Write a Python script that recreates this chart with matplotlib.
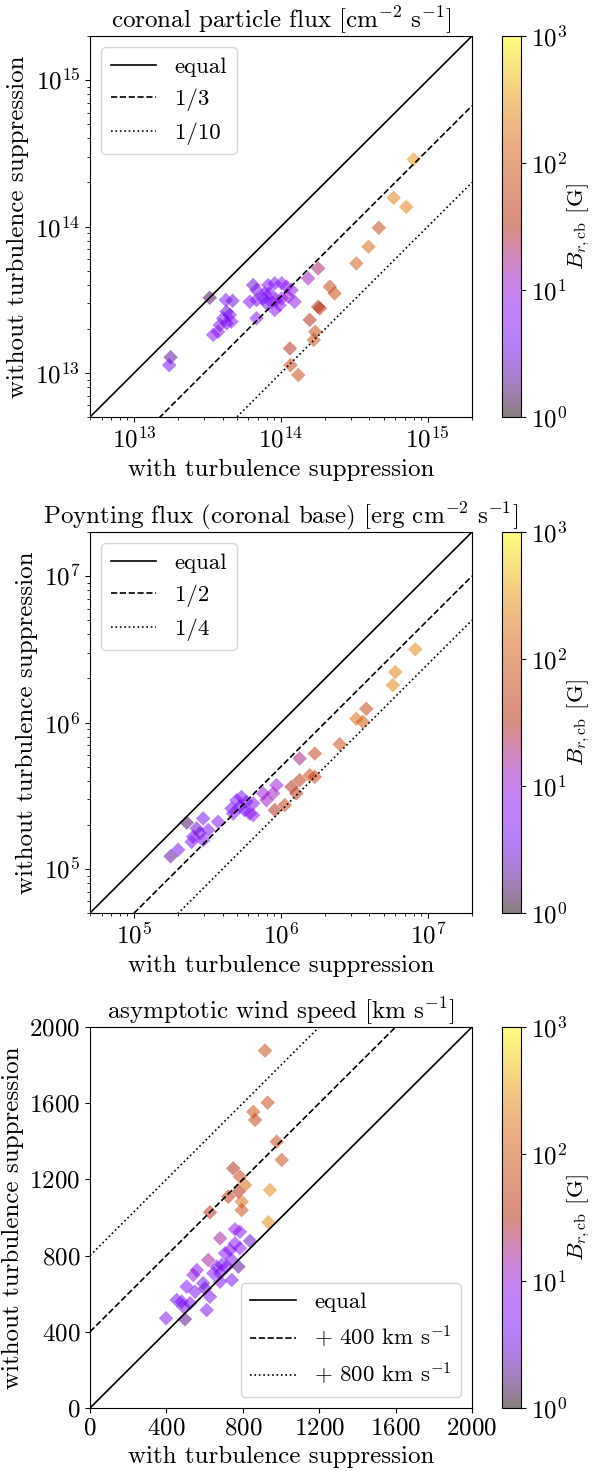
import matplotlib
matplotlib.use("Agg")
from matplotlib import pyplot as plt
from matplotlib.colors import LogNorm
import numpy as np

plt.rcParams["font.family"] = "serif"
plt.rcParams["font.serif"] = ["cmr10"]
plt.rcParams["mathtext.fontset"] = "cm"
plt.rcParams["axes.formatter.use_mathtext"] = True
plt.rcParams["axes.unicode_minus"] = False
plt.rcParams["font.size"] = 18

# coronal particle flux [cm^-2 s^-1]
flux_with = [1.77e13, 1.73e13, 3.27e13, 4.21e13, 4.68e13, 4.26e13, 4.48e13, 4.04e13, 4.6e13, 4.26e13,
             3.83e13, 3.45e13, 3.73e13, 6.46e13, 6.81e13, 8.17e13, 9.06e13, 1.01e14, 1.09e14, 6.12e13,
             6.81e13, 7.55e13, 7.96e13, 8.61e13, 9.31e13, 1.01e14, 1.12e14, 1.18e14, 1.24e14, 9.06e13,
             6.81e13, 7.76e13, 8.38e13, 9.8e13, 1.53e14, 1.79e14, 2.15e14, 2.32e14, 1.79e14, 1.84e14,
             1.57e14, 1.71e14, 1.67e14, 1.15e14, 1.16e14, 1.31e14, 8.0e14, 5.85e14, 7.13e14, 4.64e14,
             3.95e14, 3.26e14]
flux_without = [1.28e13, 1.13e13, 3.26e13, 3.15e13, 3.11e13, 2.62e13, 2.49e13, 2.36e13, 2.24e13, 2.18e13,
                2.12e13, 1.82e13, 1.91e13, 3.98e13, 3.68e13, 3.98e13, 4.09e13, 4.09e13, 3.88e13, 3.06e13,
                3.15e13, 3.23e13, 2.99e13, 3.06e13, 3.15e13, 3.23e13, 3.31e13, 3.68e13, 3.06e13, 2.69e13,
                2.36e13, 3.49e13, 3.49e13, 2.9e13, 4.42e13, 5.18e13, 3.88e13, 3.49e13, 2.83e13, 2.76e13,
                2.3e13, 1.91e13, 1.68e13, 1.47e13, 1.13e13, 9.68e12, 2.87e14, 1.57e14, 1.36e14, 9.8e13,
                7.27e13, 5.6e13]
flux_B = [2, 4, 1.5, 5, 3, 3, 4, 4, 5, 4,
          5, 6, 5, 3, 4, 6, 5, 6, 7, 5,
          4, 4, 4, 5, 6, 7, 10, 8, 9, 6,
          5, 4, 5, 7, 12, 20, 60, 70, 30, 35,
          30, 70, 70, 30, 60, 70, 300, 200, 200, 70,
          150, 100]

# Poynting flux at coronal base [erg cm^-2 s^-1]
pf_with = [1.77e5, 1.99e5, 2.28e5, 2.95e5, 2.66e5, 2.8e5, 2.52e5, 2.95e5, 2.46e5, 3.19e5,
           3.73e5, 4.98e5, 4.6e5, 5.24e5, 5.82e5, 6.46e5, 4.72e5, 6.12e5, 6.46e5, 5.38e5,
           7.55e5, 7.96e5, 8.83e5, 9.31e5, 5.66e5, 1.34e6, 1.7e6, 1.18e6, 1.34e6, 1.27e6,
           1.57e6, 1.7e6, 9.08e5, 1.06e6, 2.51e6, 3.26e6, 3.61e6, 3.81e6, 5.78e6, 6.01e6,
           8.22e6]
pf_without = [1.22e5, 1.35e5, 2.07e5, 2.21e5, 1.89e5, 1.75e5, 1.66e5, 1.57e5, 1.53e5, 1.84e5,
              2.1e5, 2.95e5, 2.59e5, 2.66e5, 2.87e5, 2.8e5, 2.39e5, 2.39e5, 2.33e5, 3.1e5,
              3.28e5, 2.95e5, 3.28e5, 3.73e5, 2.52e5, 5.68e5, 6.14e5, 3.64e5, 4.04e5, 3.28e5,
              4.36e5, 4.25e5, 2.52e5, 2.73e5, 7.11e5, 1.06e6, 1.01e6, 1.24e6, 1.8e6, 2.21e6,
              3.16e6]
pf_B = [2, 4, 1.5, 4, 3, 4, 4, 5, 5, 5,
        5, 5, 4, 4, 4, 6, 5, 7, 8, 5,
        10, 12, 12, 10, 4, 18, 60, 30, 40, 35,
        70, 60, 30, 50, 80, 150, 100, 60, 200, 200,
        250]

# asymptotic wind speed [km s^-1]
v_with = [916, 930, 855, 864, 977, 1004, 750, 785, 812, 777,
          942, 724, 794, 794, 628, 934, 681, 759, 785, 838,
          759, 733, 785, 619, 707, 742, 663, 690, 716, 646,
          681, 777, 559, 541, 593, 602, 506, 550, 628, 742,
          681, 454, 480, 524, 489, 611, 398, 497]
v_without = [1876, 1603, 1555, 1512, 1398, 1302, 1258, 1214, 1171, 1135,
             1144, 1109, 1083, 1039, 1027, 975, 891, 938, 925, 877,
             864, 829, 838, 777, 812, 777, 742, 751, 742, 707,
             707, 742, 724, 698, 655, 628, 637, 610, 584, 672,
             663, 567, 558, 550, 532, 514, 471, 466]
v_B = [70, 70, 80, 60, 70, 70, 30, 60, 150, 30,
       250, 40, 150, 80, 30, 250, 15, 8, 6, 3,
       6, 5, 7, 15, 6, 5, 4, 4, 5, 5,
       5, 2, 6, 10, 4, 3, 5, 5, 5, 4,
       5, 4, 4, 4, 4, 5, 5, 2]

fig = plt.figure(figsize=(5.96, 14.71), dpi=100)
W, H = 596.0, 1471.0
norm = LogNorm(1, 1e3)


def panel(top, bottom, x, y, b, title, lims, lines, loc, log=True):
    ax = fig.add_axes([90 / W, 1 - bottom / H, 382 / W, (bottom - top) / H])
    cax = fig.add_axes([502 / W, 1 - bottom / H, 19 / W, (bottom - top) / H])
    xx = np.array(lims)
    for func, ls, lab in lines:
        ax.plot(xx, func(xx), color="k", ls=ls, lw=1.2, label=lab)
    sc = ax.scatter(x, y, c=b, cmap="gnuplot", norm=norm, marker="D", s=55,
                    alpha=0.5, edgecolors="none")
    if log:
        ax.set_xscale("log")
        ax.set_yscale("log")
    ax.set_xlim(lims)
    ax.set_ylim(lims)
    ax.set_title(title, fontsize=18)
    ax.set_xlabel("with turbulence suppression")
    ax.set_ylabel("without turbulence suppression")
    ax.legend(loc=loc, handlelength=2.0, fontsize=16.5)
    cb = fig.colorbar(sc, cax=cax)
    cb.set_label(r"$B_{r,\mathrm{cb}}$ [G]", fontsize=16.5, labelpad=-1)
    cb.ax.minorticks_off()
    return ax


panel(36, 417, flux_with, flux_without, flux_B,
      r"coronal particle flux [cm$^{-2}$ s$^{-1}$]", (5e12, 2e15),
      [(lambda t: t, "-", "equal"), (lambda t: t / 3, "--", "1/3"), (lambda t: t / 10, ":", "1/10")],
      "upper left")

panel(532, 913, pf_with, pf_without, pf_B,
      r"Poynting flux (coronal base) [erg cm$^{-2}$ s$^{-1}$]", (5e4, 2e7),
      [(lambda t: t, "-", "equal"), (lambda t: t / 2, "--", "1/2"), (lambda t: t / 4, ":", "1/4")],
      "upper left")

ax3 = panel(1027, 1408, v_with, v_without, v_B,
            r"asymptotic wind speed [km s$^{-1}$]", (0, 2000),
            [(lambda t: t, "-", "equal"), (lambda t: t + 400, "--", r"+ 400 km s$^{-1}$"),
             (lambda t: t + 800, ":", r"+ 800 km s$^{-1}$")],
            "lower right", log=False)
ax3.set_xticks(np.arange(0, 2001, 400))
ax3.set_yticks(np.arange(0, 2001, 400))

fig.savefig("out.png", dpi=100)
